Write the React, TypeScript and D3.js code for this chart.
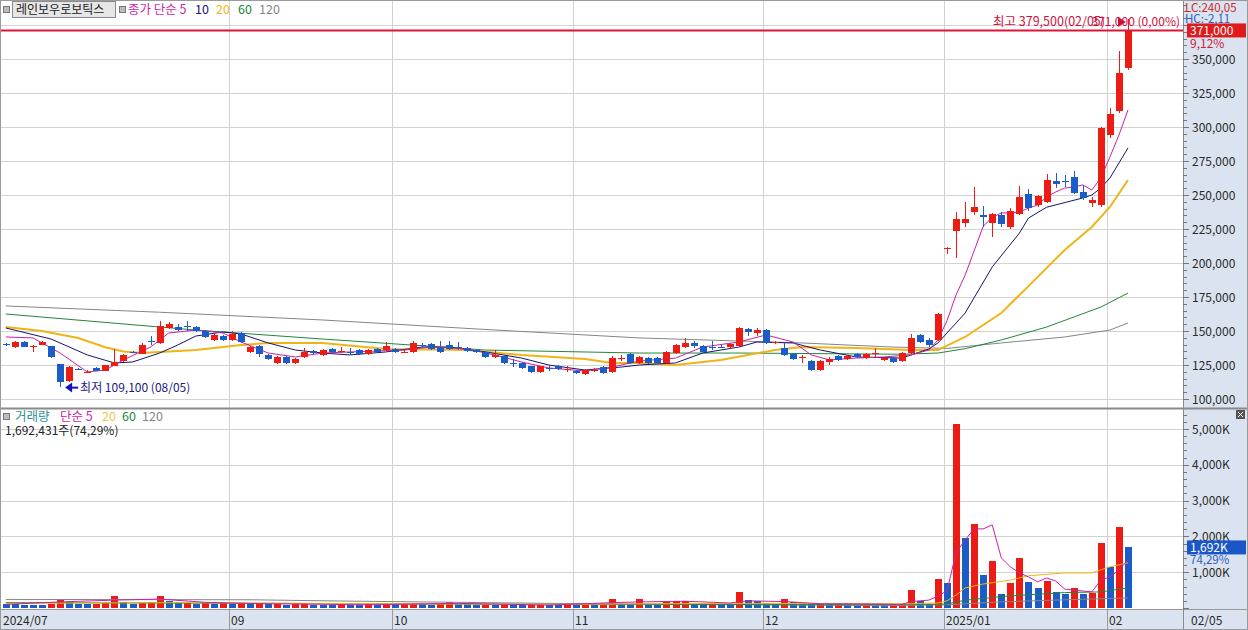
import * as d3 from "d3";
import { useEffect } from "react";

const W = 1248;
const H = 630;
const FONT = "'Noto Sans CJK KR', 'Noto Sans', sans-serif";

// [open, high, low, close], one row per trading day, 2024/07/26 .. 2025/02/05
const candles: [number, number, number, number][] = [
    [140800, 141500, 138900, 139700], [138200, 142500, 137800, 141900], [141900, 142300, 137900, 138200],
    [138600, 139500, 134600, 139000], [139700, 142300, 139500, 141900], [139000, 139000, 130100, 130900],
    [125700, 125700, 109100, 112500], [113200, 124300, 112500, 123500], [122400, 122800, 121200, 121800],
    [119100, 121300, 118800, 119800], [122800, 123200, 120300, 120600], [120600, 125300, 120300, 125000],
    [124300, 136800, 124000, 127200], [127900, 133000, 127500, 132400], [134800, 135500, 133800, 134300],
    [133100, 141200, 132800, 139700], [142800, 146300, 139700, 142300], [141200, 157400, 140500, 153700],
    [152200, 156600, 151500, 155100], [152900, 155000, 150000, 150700], [153700, 157400, 150000, 153200],
    [152900, 153700, 149300, 150000], [150000, 150700, 145000, 145600], [143400, 147800, 142600, 147100],
    [146300, 147100, 142600, 143400], [143400, 150000, 142600, 147800], [148500, 149300, 141200, 141900],
    [134600, 139000, 133800, 138200], [139000, 139700, 130900, 133100], [132400, 133100, 128700, 129400],
    [126500, 131600, 125700, 130900], [130900, 131600, 125700, 126500], [126500, 130100, 125700, 129400],
    [130900, 137500, 130100, 134600], [135300, 136000, 133100, 133800], [132400, 136800, 131600, 136000],
    [136800, 137500, 134000, 134600], [135000, 138200, 133800, 135500], [134800, 137500, 132400, 134300],
    [136000, 136800, 132400, 133100], [133100, 136800, 132400, 136000], [136800, 137500, 134000, 134600],
    [136000, 141900, 135300, 139000], [136800, 137500, 133800, 134600], [134300, 136000, 133800, 134800],
    [134600, 142600, 133800, 141200], [140000, 141200, 137500, 139500], [140400, 141200, 136000, 136800],
    [137500, 142600, 134000, 134600], [139700, 142600, 136000, 136800], [138500, 141900, 136000, 138000],
    [137500, 138200, 134600, 135300], [136000, 136800, 134000, 134600], [134600, 135300, 130100, 130900],
    [130900, 136000, 130100, 132400], [131600, 132400, 125700, 126500], [126800, 129400, 123500, 126200],
    [126500, 127200, 122100, 122800], [124300, 124300, 119100, 119900], [119900, 124300, 119100, 124300],
    [123100, 125000, 120600, 122500], [124300, 125000, 121300, 122100], [121800, 124300, 119900, 122400],
    [120600, 121300, 118400, 119100], [118400, 121800, 117600, 121300], [121000, 122800, 120000, 121500],
    [123500, 124300, 118400, 119100], [119900, 131600, 119100, 130100], [129900, 132400, 127900, 130400],
    [133100, 133800, 125700, 126500], [126500, 131600, 125700, 130900], [130100, 130900, 125700, 126500],
    [130100, 130900, 125700, 126500], [126500, 135300, 125700, 134600], [133800, 140400, 133100, 139700],
    [138200, 144900, 137500, 141200], [141200, 142600, 137500, 139000], [139000, 139700, 133800, 134600],
    [138500, 142600, 136000, 138000], [138500, 139700, 137500, 138000], [138200, 141200, 137500, 140400],
    [139000, 152900, 138200, 152200], [151500, 152200, 146300, 149300], [148500, 152200, 146300, 150700],
    [150700, 151500, 140400, 141200], [141500, 142600, 140400, 142000], [137500, 141900, 131600, 132400],
    [133100, 133800, 128700, 129400], [130600, 132400, 126500, 131100], [127900, 128700, 120600, 121300],
    [121300, 128700, 120600, 127900], [127200, 130900, 125000, 129400], [131600, 132400, 128000, 128700],
    [129400, 132400, 128700, 131600], [133100, 133800, 130100, 130900], [130100, 133800, 129400, 133100],
    [133500, 137500, 130900, 134000], [128700, 130900, 128000, 130100], [130100, 130900, 126500, 127200],
    [127900, 134600, 127200, 133800], [133800, 147800, 133100, 144900], [147100, 147800, 141200, 141900],
    [143400, 144900, 138500, 139700], [143400, 163200, 142600, 162500], [210000, 211500, 206500, 211000],
    [223500, 237500, 203500, 232500], [229500, 245000, 226500, 232500], [237500, 256000, 235500, 241000],
    [235500, 242000, 226500, 234000], [229500, 237000, 219000, 236000], [235500, 237500, 226500, 228500],
    [226500, 240500, 225000, 238000], [236000, 256500, 235000, 248500], [250500, 254500, 238500, 240500],
    [242500, 250000, 241000, 249000], [245000, 265500, 244000, 261000], [260500, 266500, 255500, 258000],
    [260500, 265000, 256000, 260000], [263000, 268000, 250500, 251500], [252000, 257500, 246500, 248000],
    [244000, 248500, 241500, 246000], [242500, 300000, 241500, 299000], [294000, 314000, 292000, 309500],
    [311500, 356000, 310000, 339500], [343500, 379500, 342000, 371000],
];

// volume in thousands of shares
const volumes = [
    110, 100, 95, 90, 85, 120, 230, 170, 120, 100, 110, 130, 330, 180, 120, 150, 170, 330, 190, 140,
    150, 120, 140, 110, 140, 100, 130, 110, 130, 100, 120, 95, 110, 130, 90, 85, 80, 95, 90, 85,
    100, 90, 110, 100, 105, 120, 100, 95, 110, 170, 120, 100, 90, 110, 95, 105, 90, 85, 100, 110,
    90, 85, 95, 80, 90, 85, 95, 260, 110, 100, 250, 110, 100, 170, 190, 200, 110, 100, 150, 120,
    110, 450, 220, 200, 150, 110, 240, 180, 130, 110, 140, 100, 120, 110, 95, 110, 100, 80, 90, 120,
    500, 200, 110, 810, 700, 5150, 1960, 2350, 920, 1310, 390, 700, 1400, 730, 560, 760, 450, 390, 560, 390,
    420, 1820, 1150, 2270, 1692,
];

// moving averages: [day index, value]
const priceMa5 = [
    [0, 145600], [3, 144900], [6, 133800], [9, 119900], [11, 121300], [13, 128700], [16, 138200], [18, 148500],
    [21, 150700], [24, 148500], [26, 141900], [29, 133800], [32, 130900], [35, 133800], [38, 134600], [44, 136000],
    [47, 138200], [51, 136800], [54, 132400], [57, 127200], [60, 122800], [64, 120600], [67, 123500], [70, 127900],
    [74, 130100], [77, 138200], [81, 141900], [84, 147100], [87, 141900], [89, 132400], [91, 128700], [94, 130100],
    [97, 130900], [100, 132400], [102, 136000], [103, 143400], [104, 157600], [105, 176500], [106, 191000],
    [107, 209000], [108, 227000], [109, 233500], [110, 236800], [111, 236800], [112, 237500], [113, 240400],
    [114, 242600], [115, 248500], [116, 252200], [117, 255100], [118, 255900], [119, 257400], [120, 253700],
    [121, 262500], [122, 277900], [123, 294100], [124, 312500],
];
const priceMa10 = [
    [0, 152200], [5, 144100], [9, 132400], [12, 126500], [14, 127200], [17, 133800], [19, 139700], [21, 146300],
    [24, 149300], [26, 147800], [29, 141200], [32, 136000], [35, 133800], [38, 132400], [42, 134600], [46, 138200],
    [49, 138200], [53, 134600], [57, 130100], [60, 125000], [64, 121300], [68, 123500], [70, 125000], [74, 126500],
    [77, 133800], [81, 138200], [83, 141900], [87, 141200], [90, 136000], [94, 130900], [99, 130100], [102, 136800],
    [103, 141200], [106, 163200], [109, 197100], [112, 222000], [113, 233000], [115, 241000], [119, 247800],
    [120, 250000], [121, 255100], [122, 262500], [123, 273500], [124, 284600],
];
const priceMa20 = [
    [0, 152900], [4, 150000], [8, 144900], [11, 138000], [13, 135000], [15, 133800], [21, 136000], [26, 139700],
    [29, 141200], [35, 141200], [42, 136800], [51, 136000], [57, 132400], [64, 129400], [67, 126500], [70, 126500],
    [74, 125000], [79, 128700], [85, 136000], [88, 138200], [94, 137500], [100, 136000], [103, 136000],
    [106, 145600], [110, 163200], [113, 183000], [117, 209600], [120, 226500], [122, 241200], [124, 261000],
];
const priceMa60 = [
    [0, 162500], [21, 150700], [35, 144100], [53, 136000], [70, 133800], [81, 133800], [99, 132900],
    [103, 133800], [106, 137000], [110, 143400], [115, 152900], [121, 167600], [124, 177900],
];
const priceMa120 = [
    [0, 168400], [17, 163800], [35, 158100], [52, 151500], [70, 144900], [88, 141200], [98, 138200],
    [104, 137200], [110, 141200], [117, 145600], [122, 150700], [124, 155900],
];

const volMa5 = [
    [0, 100], [6, 170], [12, 220], [17, 250], [22, 160], [28, 120], [40, 90], [50, 130], [60, 80], [67, 150],
    [70, 170], [75, 190], [80, 140], [82, 200], [86, 180], [90, 120], [96, 110], [99, 100], [100, 180],
    [102, 220], [103, 330], [104, 480], [105, 1540], [106, 1900], [107, 2210], [108, 2210], [109, 2320],
    [110, 1400], [111, 1150], [112, 980], [113, 870], [114, 730], [115, 840], [116, 755], [117, 530],
    [118, 500], [119, 475], [120, 450], [121, 780], [122, 870], [123, 1060], [124, 1340],
];
const volMa20 = [
    [0, 130], [20, 150], [40, 120], [60, 100], [80, 130], [100, 120], [103, 140], [104, 200], [105, 360],
    [106, 560], [108, 670], [111, 780], [113, 900], [117, 980], [120, 980], [122, 1150], [124, 1260],
];
const volMa60 = [
    [0, 150], [30, 130], [60, 100], [90, 90], [100, 100], [104, 110], [106, 220], [111, 340], [117, 430],
    [121, 450], [124, 560],
];
const volMa120 = [
    [0, 240], [27, 230], [37, 195], [60, 130], [80, 100], [97, 65], [104, 90], [110, 170], [117, 230], [124, 280],
];

const monthTicks = [
    { i: 0, label: "2024/07" }, { i: 25, label: "09" }, { i: 43, label: "10" }, { i: 63, label: "11" },
    { i: 84, label: "12" }, { i: 104, label: "2025/01" }, { i: 122, label: "02" },
];
const priceTicks = d3.range(100000, 375001, 25000);
const priceLabels = d3.range(100000, 350001, 25000);
const volTicks = [1000, 2000, 3000, 4000, 5000];

const RED = "#ec1c14";
const BLUE = "#1a5dc8";
const AXIS_BG = "#dae3ef";
const GRID = "#d2d2d2";
const C5 = "#cc1fa8";
const C10 = "#14146e";
const C20 = "#f0b416";
const C60 = "#20873a";
const C120 = "#858585";

const App = () => {
    useEffect(() => {
        document.body.style.margin = "0";
    }, []);

    const x = d3.scaleLinear().domain([0, 124]).range([5.8, 5.8 + 124 * 9.05]);
    const yP = d3.scaleLinear().domain([100000, 350000]).range([399, 59]);
    const yV = d3.scaleLinear().domain([0, 5000]).range([608, 429]);
    const fmt = d3.format(",");

    const pLine = d3.line<number[]>().x((d) => x(d[0])).y((d) => yP(d[1]));
    const vLine = d3.line<number[]>().x((d) => x(d[0])).y((d) => yV(d[1]));

    const axisX = 1183;
    const cx = (i: number) => Math.round(x(i));
    const lastClose = candles[candles.length - 1][3];
    const lastVol = volumes[volumes.length - 1];

    return (
        <svg width={W} height={H} style={{ position: "absolute", left: 0, top: 0, background: "#fff" }} fontFamily={FONT}>
            {/* axis backgrounds */}
            <rect x={axisX} y={0} width={W - axisX} height={H} fill={AXIS_BG} />
            <rect x={0} y={610} width={W} height={20} fill={AXIS_BG} />

            {/* grids */}
            {priceTicks.map((t) => (
                <line key={"pg" + t} x1={1} x2={axisX} y1={Math.round(yP(t)) + 0.5} y2={Math.round(yP(t)) + 0.5} stroke={GRID} />
            ))}
            {volTicks.map((t) => (
                <line key={"vg" + t} x1={1} x2={axisX} y1={Math.round(yV(t)) + 0.5} y2={Math.round(yV(t)) + 0.5} stroke={GRID} />
            ))}
            {monthTicks.slice(1).map((m) => (
                <line key={"mg" + m.i} x1={cx(m.i) - 2.5} x2={cx(m.i) - 2.5} y1={0} y2={610} stroke={GRID} />
            ))}

            {/* moving averages, price */}
            <path d={pLine(priceMa120) ?? ""} fill="none" stroke={C120} strokeWidth={1} />
            <path d={pLine(priceMa60) ?? ""} fill="none" stroke={C60} strokeWidth={1} />
            <path d={pLine(priceMa20) ?? ""} fill="none" stroke={C20} strokeWidth={2} />
            <path d={pLine(priceMa10) ?? ""} fill="none" stroke={C10} strokeWidth={1} />
            <path d={pLine(priceMa5) ?? ""} fill="none" stroke={C5} strokeWidth={1} />

            {/* candles */}
            {candles.map(([o, h, l, c], i) => {
                const col = c > o ? RED : BLUE;
                const top = Math.round(yP(Math.max(o, c)));
                const bot = Math.round(yP(Math.min(o, c)));
                return (
                    <g key={"c" + i}>
                        <line x1={cx(i) + 0.5} x2={cx(i) + 0.5} y1={Math.round(yP(h))} y2={Math.round(yP(l))} stroke={col} />
                        <rect x={cx(i) - 3} y={top} width={7} height={Math.max(1, bot - top)} fill={col} />
                    </g>
                );
            })}

            {/* volume bars, red when volume rose from the day before */}
            {volumes.map((v, i) => {
                const col = i > 0 && v > volumes[i - 1] ? RED : BLUE;
                const top = Math.round(yV(v));
                return <rect key={"v" + i} x={cx(i) - 3} y={top} width={7} height={608 - top} fill={col} />;
            })}
            <path d={vLine(volMa120) ?? ""} fill="none" stroke={C120} strokeWidth={1} />
            <path d={vLine(volMa60) ?? ""} fill="none" stroke={C60} strokeWidth={1} />
            <path d={vLine(volMa20) ?? ""} fill="none" stroke={C20} strokeWidth={1} />
            <path d={vLine(volMa5) ?? ""} fill="none" stroke={C5} strokeWidth={1} />

            {/* current price line */}
            <line x1={1} x2={axisX} y1={yP(lastClose)} y2={yP(lastClose)} stroke="#dc1438" strokeWidth={2} />

            {/* high / low annotations */}
            <text x={993} y={26} fontSize={12.5} fill="#d0103a">최고 379,500(02/05)</text>
            <path d="M1118,17 L1126,22 L1118,27 Z" fill="#d0103a" />
            <text x={1180} y={26} fontSize={12} fill="#d0103a" textAnchor="end">371,000 (0,00%)</text>
            <line x1={x(6) + 18} x2={x(6) + 7} y1={yP(109100) + 1} y2={yP(109100) + 1} stroke="#1010c0" strokeWidth={2} />
            <path d={`M${x(6) + 5},${yP(109100) + 1} l7,-5 l0,10 Z`} fill="#1010c0" />
            <text x={x(6) + 20} y={yP(109100) + 5} fontSize={12} fill="#1a1a80">최저 109,100 (08/05)</text>

            {/* separators and frame */}
            <line x1={0} x2={W} y1={408.5} y2={408.5} stroke="#8a8a8a" strokeWidth={2} />
            <line x1={0} x2={W} y1={609.5} y2={609.5} stroke="#9a9a9a" />
            <line x1={axisX + 0.5} x2={axisX + 0.5} y1={0} y2={H} stroke="#8a8a8a" />
            <rect x={0.5} y={0.5} width={W - 1} height={H - 1} fill="none" stroke="#9a9a9a" />

            {/* price axis */}
            {d3.range(100000, 395001, 5000).map((t) => {
                const major = t % 25000 === 0;
                const yy = Math.round(yP(t)) + 0.5;
                return <line key={"pt" + t} x1={axisX} x2={axisX + (major ? 6 : 4)} y1={yy} y2={yy} stroke="#777" />;
            })}
            {priceLabels.map((t) => (
                <text key={"pl" + t} x={axisX + 9} y={yP(t) + 4.5} fontSize={12} fill="#2a2a2a">{fmt(t)}</text>
            ))}

            {/* volume axis */}
            {d3.range(0, 5401, 200).map((t) => {
                const major = t % 1000 === 0;
                const yy = Math.round(yV(t)) + 0.5;
                return <line key={"vt" + t} x1={axisX} x2={axisX + (major ? 6 : 4)} y1={yy} y2={yy} stroke="#777" />;
            })}
            {volTicks.map((t) => (
                <text key={"vl" + t} x={axisX + 9} y={yV(t) + 4.5} fontSize={12} fill="#2a2a2a">{fmt(t)}K</text>
            ))}

            {/* bottom axis */}
            {monthTicks.map((m) => (
                <g key={"ml" + m.i}>
                    {m.i > 0 && <line x1={cx(m.i) - 2.5} x2={cx(m.i) - 2.5} y1={610} y2={630} stroke="#9a9a9a" />}
                    <text x={m.i > 0 ? cx(m.i) - 1 : 3} y={625} fontSize={12} fill="#2a2a2a">{m.label}</text>
                </g>
            ))}
            <text x={axisX + 8} y={625} fontSize={12} fill="#2a2a2a">02/05</text>

            {/* right labels */}
            <text x={1185} y={12} fontSize={11.5} fill="#cc2a2a">LC:240,05</text>
            <text x={1185} y={23} fontSize={11.5} fill="#2f5fc0">HC:-2,11</text>
            <rect x={1187} y={yP(lastClose) - 7} width={59} height={14} fill="#e01b1b" />
            <text x={1190} y={yP(lastClose) + 5} fontSize={12} fill="#fff">{fmt(lastClose)}</text>
            <text x={1190} y={yP(lastClose) + 18} fontSize={12} fill="#d0203a">9,12%</text>
            <rect x={1187} y={yV(lastVol) - 7} width={59} height={14} fill="#1a56c8" />
            <text x={1190} y={yV(lastVol) + 5} fontSize={12} fill="#fff">1,692K</text>
            <text x={1190} y={yV(lastVol) + 17} fontSize={11.5} fill="#2f5fc0">74,29%</text>
            <rect x={1236} y={410} width={9} height={9} fill="#555" />
            <path d="M1238,417 L1243,412 M1238,412 L1243,417" stroke="#fff" strokeWidth={1} />

            {/* price legend */}
            <rect x={3.5} y={6.5} width={6} height={6} fill="#bbb" stroke="#777" />
            <rect x={12.5} y={1.5} width={103} height={16} fill="#e6e6e6" stroke="#8a8a8a" />
            <text x={16} y={14} fontSize={12} fill="#222">레인보우로보틱스</text>
            <rect x={119.5} y={6.5} width={6} height={6} fill="#bbb" stroke="#777" />
            <text x={128} y={14} fontSize={12.5} fill={C5}>종가 단순 5</text>
            <text x={195} y={14} fontSize={12.5} fill={C10}>10</text>
            <text x={216} y={14} fontSize={12.5} fill={C20}>20</text>
            <text x={238} y={14} fontSize={12.5} fill={C60}>60</text>
            <text x={259} y={14} fontSize={12.5} fill={C120}>120</text>

            {/* volume legend */}
            <rect x={3.5} y={413.5} width={6} height={6} fill="#bbb" stroke="#777" />
            <text x={15} y={421} fontSize={12.5} fill="#2a8f95">거래량</text>
            <text x={60} y={421} fontSize={12.5} fill={C5}>단순 5</text>
            <text x={102} y={421} fontSize={12.5} fill="#e8c848">20</text>
            <text x={122} y={421} fontSize={12.5} fill={C60}>60</text>
            <text x={142} y={421} fontSize={12.5} fill={C120}>120</text>
            <text x={5} y={435} fontSize={12} fill="#222">1,692,431주(74,29%)</text>
        </svg>
    );
};

export default App;
